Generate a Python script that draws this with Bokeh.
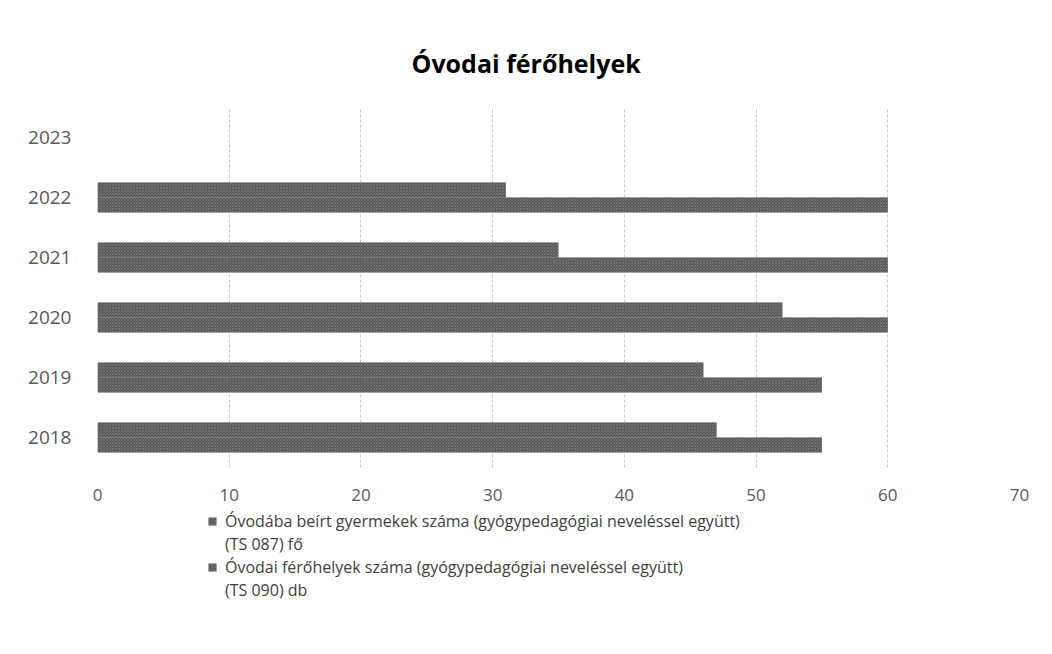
from bokeh.plotting import figure
from bokeh.models import FactorRange, Range1d, Legend, LegendItem, ColumnDataSource
from bokeh.layouts import column
from bokeh.transform import dodge
from bokeh.embed import file_html
from bokeh.resources import INLINE

years = ["2018", "2019", "2020", "2021", "2022", "2023"]
enrolled = [47, 46, 52, 35, 31, None]
capacity = [55, 55, 60, 60, 60, None]
x_ticks = [0, 10, 20, 30, 40, 50, 60, 70]
title = "Óvodai férőhelyek"
label_enrolled = ["Óvodába beírt gyermekek száma (gyógypedagógiai neveléssel együtt)", "(TS 087) fő"]
label_capacity = ["Óvodai férőhelyek száma (gyógypedagógiai neveléssel együtt)", "(TS 090) db"]

src = ColumnDataSource(dict(
    y=years,
    enrolled=[v if v is not None else 0 for v in enrolled],
    capacity=[v if v is not None else 0 for v in capacity],
))

FONT = "Open Sans"

p = figure(
    width=1050, height=510,
    y_range=FactorRange(*years, range_padding=0),
    x_range=Range1d(0, 70),
    output_backend="svg", toolbar_location=None,
    min_border_left=97, min_border_right=31, min_border_top=107, min_border_bottom=43,
)
p.title.text = title
p.title.align = "left"
p.title.offset = 314
p.title.text_font = FONT
p.title.text_font_size = "25px"
p.title.text_font_style = "bold"
p.title.text_color = "#000000"
p.title.standoff = 55

bar_kw = dict(height=0.25, line_color=None, fill_color="#555555",
              hatch_pattern="x", hatch_color="#8a8a8a", hatch_scale=3, hatch_weight=0.5)
r1 = p.hbar(y=dodge("y", 0.125, range=p.y_range), left=0, right="enrolled", source=src, **bar_kw)
r2 = p.hbar(y=dodge("y", -0.125, range=p.y_range), left=0, right="capacity", source=src, **bar_kw)

p.xaxis.ticker = x_ticks
p.xaxis.axis_line_color = None
p.xaxis.major_tick_line_color = None
p.xaxis.minor_tick_line_color = None
p.xaxis.major_label_text_font = FONT
p.xaxis.major_label_text_font_size = "17px"
p.xaxis.major_label_text_color = "#595959"
p.xaxis.major_label_standoff = 15

p.yaxis.axis_line_color = None
p.yaxis.major_tick_line_color = None
p.yaxis.major_label_text_font = FONT
p.yaxis.major_label_text_font_size = "19px"
p.yaxis.major_label_text_color = "#595959"
p.yaxis.major_label_standoff = 20

p.ygrid.grid_line_color = None
p.xgrid.grid_line_color = "#c8c8c8"
p.xgrid.grid_line_dash = "3 2"
p.xgrid.grid_line_width = 1
p.outline_line_color = None

# legend figure below the chart (frame aligned with the chart's frame)
lf = figure(width=1050, height=140, x_range=Range1d(0, 1), y_range=Range1d(0, 1),
            x_axis_type=None, y_axis_type=None, output_backend="svg", toolbar_location=None,
            min_border=0)
lf.outline_line_color = None
lf.xgrid.grid_line_color = None
lf.ygrid.grid_line_color = None
# off-screen placeholders, used only to draw the legend swatches
swatch = ColumnDataSource(dict(y=[-10], right=[1]))
l1 = lf.hbar(y="y", left=0, right="right", source=swatch, **bar_kw)
l2 = lf.hbar(y="y", left=0, right="right", source=swatch, **bar_kw)
blank = lf.hbar(y="y", left=0, right="right", source=swatch, fill_alpha=0, line_alpha=0)

legend = Legend(items=[
    LegendItem(label=label_enrolled[0], renderers=[l1]),
    LegendItem(label=label_enrolled[1], renderers=[blank]),
    LegendItem(label=label_capacity[0], renderers=[l2]),
    LegendItem(label=label_capacity[1], renderers=[blank]),
], location=(110, 49), orientation="vertical")
legend.label_text_font = FONT
legend.label_text_font_size = "16px"
legend.label_text_color = "#404040"
legend.label_height = 23
legend.glyph_width = 10
legend.glyph_height = 10
legend.label_standoff = 8
legend.spacing = 0
legend.padding = 0
legend.margin = 0
legend.border_line_color = None
legend.background_fill_alpha = 0
lf.add_layout(legend, "center")

layout = column(p, lf, spacing=0)
open("out.html", "w").write(file_html(layout, INLINE))
